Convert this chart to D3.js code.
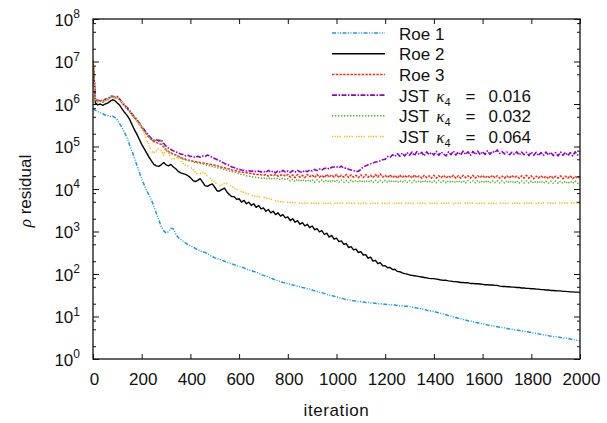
<!DOCTYPE html>
<html><head><meta charset="utf-8">
<script src="https://cdn.jsdelivr.net/npm/d3@7"></script>
<style>
body{margin:0;background:#fff}
svg text{font-family:'Liberation Sans',Arial,sans-serif;fill:#111}
</style>
</head><body>
<svg id="chart" width="607" height="423"></svg>
<script>
// iteration step of the sampled series
const STEP = 10;

const roe1 = [
7.6e5,7.1e5,6.6e5,6.2e5,5.9e5,5.5e5,5.4e5,5.1e5,5.2e5,4.8e5,
4.2e5,3.4e5,2.7e5,2.1e5,1.6e5,1.1e5,7.9e4,5.4e4,3.6e4,2.5e4,
1.7e4,1.26e4,9.3e3,7.2e3,5.5e3,3.9e3,2.7e3,1.9e3,1.3e3,1.05e3,
930,980,1200,1150,870,720,650,590,540,490,
460,430,400,370,350,330,320,300,275,260,
240,230,220,210,200,190,180,175,165,160,
150,145,140,130,125,120,115,110,105,98,
93,89,85,80,76,72,69,66,63,62,
59,57,55,54,51,50,48,47,45,44,
42,40,39,37,36,35,33,32,31,30,
29,28,27,26,25,24.5,24,23.5,23,22.4,
22.4,21.9,21.4,21.4,20.9,20.9,20.4,20,20,19.5,
19.5,19,19,18.6,18.6,18.2,17.8,17.8,17.4,17.4,
17,16.6,16.2,15.8,15.5,15.1,14.8,14.1,13.8,13.5,
13.2,12.6,12.3,11.7,11.5,11,10.5,10.2,9.8,9.5,
9.1,8.9,8.5,8.3,7.9,7.8,7.6,7.2,7.1,6.9,
6.8,6.6,6.3,6.2,6.0,5.9,5.75,5.6,5.5,5.4,
5.25,5.1,5.0,4.9,4.8,4.7,4.6,4.5,4.4,4.3,
4.2,4.1,4.0,3.9,3.8,3.7,3.65,3.55,3.45,3.4,
3.4,3.3,3.2,3.15,3.1,3.0,2.95,2.9,2.8,2.75,
2.7];

const roe2 = [
1.0e7,1.05e6,9.5e5,1.0e6,9.3e5,1.0e6,1.05e6,1.15e6,1.26e6,1.2e6,
1.05e6,9.3e5,7.6e5,6.3e5,5.4e5,4.4e5,3.3e5,2.5e5,1.95e5,1.48e5,
1.12e5,8.9e4,7.1e4,5.6e4,4.6e4,3.8e4,3.5e4,3.4e4,3.7e4,4.2e4,
3.7e4,3.5e4,3.8e4,3.3e4,3.0e4,2.6e4,2.4e4,2.3e4,2.2e4,2.05e4,
1.85e4,1.6e4,1.5e4,1.6e4,1.75e4,1.45e4,1.2e4,1.15e4,1.25e4,1.32e4,
1.1e4,9.0e3,9.0e3,9.8e3,1.05e4,8.5e3,7.4e3,6.6e3,6.6e3,5.7e3,
5.9e3,4.9e3,5.4e3,4.5e3,4.9e3,4.1e3,4.5e3,3.7e3,4.1e3,3.4e3,
3.6e3,3.0e3,3.3e3,2.75e3,3.0e3,2.5e3,2.75e3,2.3e3,2.5e3,2.1e3,
2.2e3,1.8e3,2.0e3,1.65e3,1.8e3,1.48e3,1.62e3,1.35e3,1.48e3,1.23e3,
1.35e3,1.1e3,1.17e3,980,1050,850,910,740,810,660,
700,580,600,500,520,420,440,370,385,320,
335,280,285,235,250,200,210,175,185,155,
157,140,143,127,129,115,113,106,102,99,
95,93,91,89,87,85,83,81,79,78,
78,76,74,72,71,71,69,68,66,66,
65,63,63,62,62,60,60,59,59,58,
57,56,56,55,55,54,54,52,51,51,
50,50,49,49,48,48,47,47,46,46,
45,45,44,44,43,43,42,42,41,41,
40.5,40,40,39,39,38.5,38,38,37.5,37.5,
37];

const roe3 = [
1.1e7,1.25e6,1.15e6,1.2e6,1.1e6,1.25e6,1.25e6,1.45e6,1.5e6,1.4e6,
1.45e6,1.25e6,1.05e6,9.0e5,7.8e5,6.7e5,5.6e5,4.8e5,4.1e5,3.4e5,
2.8e5,2.35e5,1.95e5,1.65e5,1.45e5,1.3e5,1.25e5,1.17e5,1.12e5,9.8e4,
8.3e4,7.6e4,7.1e4,6.6e4,6.3e4,5.9e4,5.5e4,5.2e4,5.0e4,4.8e4,
4.7e4,4.5e4,4.4e4,4.3e4,4.2e4,4.1e4,4.0e4,3.9e4,3.8e4,3.7e4,
3.6e4,3.5e4,3.4e4,3.2e4,3.15e4,3.0e4,2.95e4,2.8e4,2.75e4,2.65e4,
2.55e4,2.5e4,2.45e4,2.4e4,2.35e4,2.3e4,2.25e4,2.2e4,2.2e4,2.15e4,
2.1e4,2.2e4,2.0e4,2.15e4,2.05e4,2.2e4,2.0e4,2.1e4,2.2e4,2.0e4,
2.2e4,1.9e4,2.15e4,1.85e4,2.2e4,1.9e4,2.1e4,1.85e4,2.2e4,1.95e4,
2.15e4,1.85e4,2.2e4,1.9e4,2.1e4,1.85e4,2.2e4,1.9e4,2.15e4,1.9e4,
2.2e4,1.85e4,2.1e4,1.9e4,2.2e4,1.85e4,2.15e4,1.9e4,2.1e4,1.85e4,
2.15e4,1.85e4,2.2e4,1.9e4,2.1e4,1.85e4,2.2e4,1.9e4,2.25e4,1.9e4,
2.1e4,1.85e4,2.15e4,1.85e4,2.1e4,1.8e4,2.15e4,1.85e4,2.1e4,1.85e4,
2.1e4,1.8e4,2.15e4,1.85e4,2.05e4,1.8e4,2.1e4,1.85e4,2.05e4,1.8e4,
2.1e4,1.8e4,2.05e4,1.85e4,2.1e4,1.8e4,2.05e4,1.85e4,2.1e4,1.8e4,
2.05e4,1.8e4,2.1e4,1.85e4,2.05e4,1.8e4,2.1e4,1.8e4,2.05e4,1.85e4,
2.1e4,1.8e4,2.05e4,1.8e4,2.1e4,1.85e4,2.05e4,1.8e4,2.0e4,1.8e4,
2.05e4,1.8e4,2.1e4,1.85e4,2.0e4,1.8e4,2.05e4,1.8e4,2.1e4,1.8e4,
2.05e4,1.75e4,2.0e4,1.8e4,2.05e4,1.8e4,2.0e4,1.75e4,2.05e4,1.8e4,
2.0e4,1.8e4,2.05e4,1.75e4,2.0e4,1.8e4,2.05e4,1.75e4,2.0e4,1.8e4,
1.95e4];

const jst016 = [
1.05e7,1.3e6,1.2e6,1.25e6,1.15e6,1.3e6,1.3e6,1.5e6,1.55e6,1.45e6,
1.5e6,1.3e6,1.1e6,9.5e5,8.3e5,7.0e5,5.9e5,5.0e5,4.3e5,3.6e5,
2.95e5,2.5e5,2.1e5,1.8e5,1.55e5,1.4e5,1.45e5,1.35e5,1.45e5,1.2e5,
1.02e5,9.1e4,8.5e4,7.9e4,7.4e4,7.1e4,6.6e4,6.5e4,6.0e4,6.2e4,
5.8e4,5.9e4,5.5e4,5.9e4,5.6e4,6.0e4,5.8e4,6.3e4,6.0e4,5.5e4,
5.2e4,4.9e4,4.6e4,4.3e4,4.0e4,3.8e4,3.6e4,3.3e4,3.2e4,3.0e4,
2.9e4,2.8e4,2.75e4,2.65e4,2.7e4,2.6e4,2.7e4,2.55e4,2.65e4,2.5e4,
2.6e4,2.45e4,2.75e4,2.5e4,2.65e4,2.4e4,2.7e4,2.45e4,2.75e4,2.5e4,
2.65e4,2.45e4,2.7e4,2.5e4,2.75e4,2.55e4,2.45e4,2.75e4,2.55e4,2.8e4,
2.65e4,2.9e4,2.7e4,2.95e4,2.8e4,3.05e4,3.15e4,2.95e4,3.25e4,3.3e4,
3.35e4,3.15e4,3.45e4,3.1e4,3.1e4,2.9e4,2.8e4,2.7e4,2.6e4,2.6e4,
2.9e4,3.3e4,3.5e4,3.7e4,3.9e4,4.1e4,4.3e4,4.4e4,4.6e4,4.9e4,
5.0e4,5.8e4,5.6e4,6.4e4,5.9e4,6.8e4,5.9e4,7.0e4,6.0e4,7.2e4,
6.2e4,7.4e4,6.1e4,7.6e4,6.5e4,7.3e4,6.0e4,7.5e4,6.4e4,7.2e4,
6.3e4,7.7e4,6.2e4,7.4e4,6.6e4,6.0e4,7.5e4,6.4e4,7.8e4,6.3e4,
7.4e4,6.3e4,7.8e4,6.5e4,7.5e4,6.2e4,7.7e4,6.5e4,7.8e4,6.4e4,
7.6e4,6.5e4,7.9e4,6.6e4,7.7e4,7.2e4,8.3e4,6.9e4,7.6e4,6.7e4,
7.4e4,6.4e4,7.3e4,6.5e4,7.5e4,6.3e4,7.4e4,6.4e4,7.3e4,6.1e4,
7.4e4,6.2e4,7.3e4,6.1e4,7.2e4,6.2e4,7.4e4,6.3e4,7.3e4,6.1e4,
7.2e4,6.0e4,7.4e4,6.2e4,7.3e4,6.1e4,7.2e4,6.0e4,7.5e4,6.3e4,
7.0e4];

const jst032 = [
1.05e7,1.2e6,1.12e6,1.18e6,1.1e6,1.2e6,1.22e6,1.4e6,1.48e6,1.38e6,
1.42e6,1.22e6,1.05e6,8.9e5,7.7e5,6.6e5,5.5e5,4.7e5,4.0e5,3.3e5,
2.8e5,2.35e5,1.95e5,1.65e5,1.45e5,1.35e5,1.4e5,1.45e5,1.3e5,1.05e5,
7.9e4,7.4e4,6.9e4,6.5e4,6.2e4,5.8e4,5.4e4,5.0e4,4.8e4,4.7e4,
4.5e4,4.4e4,4.2e4,4.1e4,4.0e4,3.9e4,3.7e4,3.6e4,3.5e4,3.4e4,
3.3e4,3.15e4,3.1e4,2.95e4,2.9e4,2.75e4,2.65e4,2.55e4,2.5e4,2.4e4,
2.3e4,2.2e4,2.15e4,2.05e4,2.0e4,1.95e4,1.9e4,1.9e4,1.85e4,1.8e4,
1.85e4,1.7e4,1.85e4,1.68e4,1.82e4,1.7e4,1.8e4,1.65e4,1.8e4,1.68e4,
1.75e4,1.55e4,1.7e4,1.5e4,1.72e4,1.52e4,1.68e4,1.5e4,1.65e4,1.48e4,
1.66e4,1.45e4,1.64e4,1.47e4,1.65e4,1.45e4,1.62e4,1.44e4,1.64e4,1.46e4,
1.63e4,1.44e4,1.62e4,1.46e4,1.6e4,1.42e4,1.62e4,1.45e4,1.6e4,1.44e4,
1.62e4,1.43e4,1.6e4,1.45e4,1.62e4,1.42e4,1.6e4,1.44e4,1.61e4,1.43e4,
1.6e4,1.42e4,1.62e4,1.44e4,1.6e4,1.41e4,1.58e4,1.43e4,1.6e4,1.42e4,
1.58e4,1.4e4,1.6e4,1.42e4,1.58e4,1.4e4,1.6e4,1.43e4,1.57e4,1.4e4,
1.58e4,1.41e4,1.6e4,1.42e4,1.57e4,1.4e4,1.58e4,1.42e4,1.56e4,1.4e4,
1.58e4,1.4e4,1.57e4,1.38e4,1.58e4,1.42e4,1.56e4,1.4e4,1.58e4,1.39e4,
1.56e4,1.4e4,1.58e4,1.38e4,1.55e4,1.4e4,1.57e4,1.39e4,1.56e4,1.38e4,
1.57e4,1.39e4,1.55e4,1.38e4,1.56e4,1.37e4,1.55e4,1.39e4,1.56e4,1.38e4,
1.55e4,1.37e4,1.54e4,1.38e4,1.55e4,1.36e4,1.54e4,1.38e4,1.53e4,1.36e4,
1.54e4,1.37e4,1.52e4,1.36e4,1.53e4,1.34e4,1.52e4,1.36e4,1.53e4,1.35e4,
1.45e4];

const jst064 = [
1.2e7,1.3e6,1.18e6,1.22e6,1.15e6,1.25e6,1.28e6,1.5e6,1.55e6,1.42e6,
1.48e6,1.28e6,1.08e6,9.2e5,8.0e5,6.8e5,5.7e5,4.9e5,4.1e5,3.4e5,
2.75e5,2.15e5,1.5e5,1.05e5,7.6e4,7.1e4,7.9e4,9.1e4,7.9e4,6.3e4,
8.9e4,7.1e4,5.2e4,5.0e4,5.4e4,5.5e4,4.8e4,4.0e4,3.6e4,3.5e4,
3.3e4,2.9e4,2.5e4,2.2e4,2.3e4,2.45e4,2.3e4,2.0e4,1.8e4,1.6e4,
1.45e4,1.3e4,1.2e4,1.26e4,1.35e4,1.35e4,1.26e4,1.15e4,1.05e4,9.8e3,
9.1e3,8.7e3,8.3e3,7.9e3,7.6e3,7.2e3,6.9e3,6.8e3,6.6e3,6.5e3,
6.3e3,6.2e3,6.0e3,5.8e3,5.5e3,5.3e3,5.1e3,5.0e3,5.0e3,4.9e3,
4.9e3,4.8e3,4.8e3,4.7e3,4.7e3,4.65e3,4.6e3,4.7e3,4.6e3,4.7e3,
4.6e3,4.7e3,4.55e3,4.65e3,4.7e3,4.55e3,4.65e3,4.6e3,4.75e3,4.55e3,
4.65e3,4.6e3,4.7e3,4.55e3,4.65e3,4.7e3,4.6e3,4.55e3,4.7e3,4.6e3,
4.55e3,4.7e3,4.6e3,4.65e3,4.55e3,4.7e3,4.6e3,4.65e3,4.55e3,4.7e3,
4.6e3,4.55e3,4.7e3,4.6e3,4.65e3,4.55e3,4.7e3,4.6e3,4.55e3,4.65e3,
4.7e3,4.6e3,4.55e3,4.65e3,4.6e3,4.7e3,4.55e3,4.6e3,4.7e3,4.6e3,
4.65e3,4.55e3,4.7e3,4.6e3,4.65e3,4.55e3,4.7e3,4.65e3,4.55e3,4.7e3,
4.6e3,4.65e3,4.55e3,4.7e3,4.6e3,4.65e3,4.7e3,4.55e3,4.65e3,4.6e3,
4.7e3,4.55e3,4.65e3,4.6e3,4.7e3,4.6e3,4.55e3,4.7e3,4.6e3,4.65e3,
4.55e3,4.7e3,4.6e3,4.65e3,4.7e3,4.55e3,4.65e3,4.6e3,4.7e3,4.6e3,
4.65e3,4.7e3,4.55e3,4.65e3,4.6e3,4.75e3,4.6e3,4.65e3,4.7e3,4.6e3,
4.7e3,4.6e3,4.75e3,4.65e3,4.7e3,4.6e3,4.75e3,4.65e3,4.7e3,4.8e3,
4.7e3];

const seriesNames = ["Roe 1", "Roe 2", "Roe 3", "JST κ4 = 0.016", "JST κ4 = 0.032", "JST κ4 = 0.064"];
const kappaValues = ["0.016", "0.032", "0.064"];
const xTickValues = [0, 200, 400, 600, 800, 1000, 1200, 1400, 1600, 1800, 2000];
const yTickExponents = [0, 1, 2, 3, 4, 5, 6, 7, 8];
const yMinorMantissas = [2, 5, 8];

const iterations = roe1.map((_, i) => i * STEP);

const series = [
  {name: seriesNames[0], values: roe1, color: "#1a9bd8", dash: "4,1.5,1,1.5,1,1.5", width: 1.5},
  {name: seriesNames[1], values: roe2, color: "#000000", dash: null, width: 1.4},
  {name: seriesNames[2], values: roe3, color: "#f52c1c", dash: "2.5,1.2", width: 1.5},
  {name: seriesNames[3], values: jst016, color: "#9000c8", dash: "5,1.5,1.5,1.5", width: 1.6, kappa: kappaValues[0]},
  {name: seriesNames[4], values: jst032, color: "#62b030", dash: "1.4,1.6", width: 1.5, kappa: kappaValues[1]},
  {name: seriesNames[5], values: jst064, color: "#ffb800", dash: "1.3,1.2,1.3,1.2,1.3,1.2,1.3,3.2", width: 1.5, kappa: kappaValues[2]}
];

const L = 93, R = 580, T = 19, B = 359;
const FS = 17;

const svg = d3.select("#chart");
const x = d3.scaleLinear().domain([0, 2000]).range([L, R]);
const y = d3.scaleLog().domain([1, 1e8]).range([B, T]);

svg.append("defs").append("clipPath").attr("id", "clip")
  .append("rect").attr("x", L).attr("y", T).attr("width", R - L).attr("height", B - T);

// data lines
const line = d3.line().x((d, i) => x(iterations[i])).y(d => y(d));
const plot = svg.append("g").attr("clip-path", "url(#clip)");
series.forEach(s => {
  plot.append("path").datum(s.values)
    .attr("d", line).attr("fill", "none")
    .attr("stroke", s.color).attr("stroke-width", s.width)
    .attr("stroke-dasharray", s.dash)
    .attr("stroke-linejoin", "round");
});

// axes
const majorY = yTickExponents.map(e => Math.pow(10, e));
const minorY = [];
yTickExponents.slice(0, -1).forEach(e => yMinorMantissas.forEach(m => minorY.push(m * Math.pow(10, e))));

function styleAxis(g) {
  g.select(".domain").remove();
  g.selectAll(".tick line").attr("stroke", "#111").attr("stroke-width", 1);
  g.selectAll("text").attr("font-size", FS);
}

svg.append("g").attr("transform", `translate(0,${B})`)
  .call(d3.axisBottom(x).tickValues(xTickValues).tickSizeInner(-5).tickSizeOuter(0).tickPadding(14).tickFormat(d3.format("d")))
  .call(styleAxis)
  .call(g => g.selectAll("text").attr("dx", 1).attr("fill", "#111").attr("font-family", "'Liberation Sans',Arial,sans-serif"));
svg.append("g").attr("transform", `translate(0,${T})`)
  .call(d3.axisTop(x).tickValues(xTickValues).tickSizeInner(-5).tickSizeOuter(0).tickFormat(""))
  .call(styleAxis);

svg.append("g").attr("transform", `translate(${L},0)`)
  .call(d3.axisLeft(y).tickValues(majorY).tickSizeInner(-6).tickSizeOuter(0).tickFormat(""))
  .call(styleAxis);
svg.append("g").attr("transform", `translate(${L},0)`)
  .call(d3.axisLeft(y).tickValues(minorY).tickSizeInner(-3).tickSizeOuter(0).tickFormat(""))
  .call(styleAxis);
svg.append("g").attr("transform", `translate(${R},0)`)
  .call(d3.axisRight(y).tickValues(majorY).tickSizeInner(-6).tickSizeOuter(0).tickFormat(""))
  .call(styleAxis);
svg.append("g").attr("transform", `translate(${R},0)`)
  .call(d3.axisRight(y).tickValues(minorY).tickSizeInner(-3).tickSizeOuter(0).tickFormat(""))
  .call(styleAxis);

// y tick labels 10^n
const yl = svg.append("g");
yTickExponents.forEach(e => {
  const t = yl.append("text").attr("x", 80).attr("y", y(Math.pow(10, e)) + 6.5)
    .attr("text-anchor", "end").attr("font-size", FS);
  t.append("tspan").text("10");
  t.append("tspan").attr("font-size", 12).attr("dy", -7.5).text(String(e));
});

// frame
svg.append("rect").attr("x", L).attr("y", T).attr("width", R - L).attr("height", B - T)
  .attr("fill", "none").attr("stroke", "#111").attr("stroke-width", 1.3);

// axis titles
svg.append("text").attr("x", (L + R) / 2).attr("y", 416).attr("text-anchor", "middle")
  .attr("font-size", FS).attr("letter-spacing", 0.6).text("iteration");
const yt = svg.append("text").attr("transform", `translate(31,${(T + B) / 2 + 2}) rotate(-90)`)
  .attr("text-anchor", "middle").attr("font-size", FS);
yt.append("tspan").attr("font-style", "italic").attr("font-family", "'Liberation Serif',serif").text("ρ");
yt.append("tspan").text(" residual");

// legend
const LEG_TEXT_X = 399, LEG_TEXT_END = 531;
const lg = svg.append("g");
series.forEach((s, i) => {
  const cy = 33 + i * 20.7;
  lg.append("line").attr("x1", 332).attr("x2", 385).attr("y1", cy).attr("y2", cy)
    .attr("stroke", s.color).attr("stroke-width", s.width).attr("stroke-dasharray", s.dash);
  const t = lg.append("text").attr("x", LEG_TEXT_X).attr("y", cy + 6.5).attr("font-size", FS);
  if (s.kappa) {
    t.append("tspan").text("JST");
    t.append("tspan").attr("dx", 7).attr("font-style", "italic")
      .attr("font-family", "'Liberation Serif',serif").text("κ");
    t.append("tspan").attr("font-size", 11).attr("dy", 4).text("4");
    const eq = t.append("tspan").attr("dx", 6).attr("dy", -4).text("=");
    const val = t.append("tspan").attr("dx", 4).text(s.kappa);
    // fit the spacing around "=" so the entry ends where the reference's does
    const bb = t.node().getBBox();
    const extra = LEG_TEXT_END - (bb.x + bb.width);
    eq.attr("dx", Math.max(2, 6 + extra / 2));
    val.attr("dx", Math.max(2, 4 + extra / 2));
  } else {
    t.text(s.name);
  }
});
</script>
</body></html>
